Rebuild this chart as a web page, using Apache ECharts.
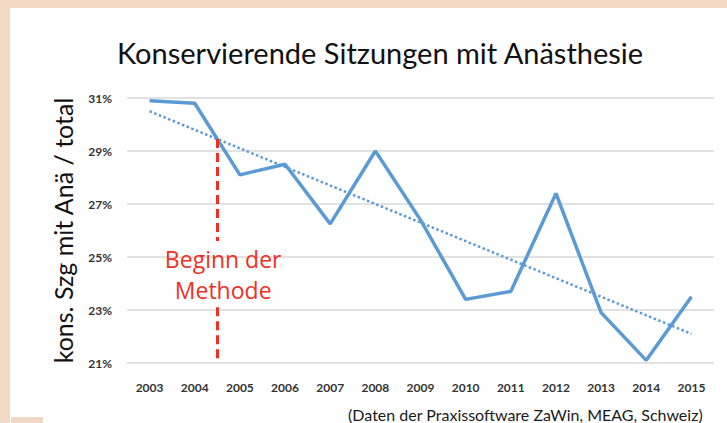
<!DOCTYPE html>
<html>
<head>
<meta charset="utf-8">
<script src="https://cdn.jsdelivr.net/npm/echarts@6/dist/echarts.min.js"></script>
<style>
html,body{margin:0;padding:0;background:#f1d9c5;}
#c{width:727px;height:423px;}
</style>
</head>
<body>
<div id="c"></div>
<script>
// Data
const years = ['2003','2004','2005','2006','2007','2008','2009','2010','2011','2012','2013','2014','2015'];
const shareAnesthesia = [30.9, 30.8, 28.1, 28.5, 26.25, 29.0, 26.4, 23.4, 23.7, 27.4, 22.9, 21.1, 23.5];
// Linear trend line: values read at first and last year
const trendStart = 30.5;
const trendEnd = 22.1;
// "Beginn der Methode" marker between 2004 and 2005 (category index 1.5)
const methodStartIndex = 1.5;
const markerTop = 29.45;
const markerGapTop = 25.6;
const markerGapBottom = 23.1;
const markerBottom = 21;
const yTicks = [21, 23, 25, 27, 29, 31];

const trendData = years.map((y, i) => i === 0 ? trendStart : (i === years.length - 1 ? trendEnd : null));

const font = 'Lato, "Open Sans", sans-serif';
const chart = echarts.init(document.getElementById('c'), null, {renderer: 'svg'});
chart.setOption({
  backgroundColor: '#f1d9c5',
  animation: false,
  graphic: [
    {type: 'rect', shape: {x: 10, y: 8, width: 717, height: 415}, style: {fill: '#ffffff'}, z: -10, silent: true},
    {type: 'rect', shape: {x: 11, y: 417, width: 32, height: 6}, style: {fill: '#f1d9c5'}, z: -9, silent: true}
  ],
  title: [
    {text: 'Konservierende Sitzungen mit Anästhesie', left: 112, top: 33,
     textStyle: {fontFamily: font, fontSize: 29, fontWeight: 'normal', color: '#111'}},
    {text: '(Daten der Praxissoftware ZaWin, MEAG, Schweiz)', right: 19, top: 401,
     textStyle: {fontFamily: font, fontSize: 16, fontWeight: 'normal', color: '#1a1a1a'}}
  ],
  grid: {left: 127, right: 13, top: 98, bottom: 60},
  xAxis: [
    {type: 'category', data: years, boundaryGap: true,
     axisLine: {show: false}, axisTick: {show: false},
     axisLabel: {fontFamily: font, fontSize: 12, fontWeight: 'bold', color: '#333', margin: 18}},
    {type: 'value', min: -0.5, max: 12.5, show: false}
  ],
  yAxis: {
    type: 'value', min: 21, max: 31, interval: 2,
    name: 'kons. Szg mit Anä / total', nameLocation: 'middle', nameGap: 52, nameRotate: 90,
    nameTextStyle: {fontFamily: font, fontSize: 25, color: '#111'},
    axisLine: {show: false}, axisTick: {show: false},
    axisLabel: {fontFamily: font, fontSize: 12, fontWeight: 'bold', color: '#333', margin: 15,
      formatter: v => yTicks.includes(v) ? v + '%' : ''},
    splitLine: {lineStyle: {color: '#d9d9d9', width: 1.5}}
  },
  series: [
    {type: 'line', xAxisIndex: 0, data: trendData, connectNulls: true, symbol: 'none',
     lineStyle: {color: '#5b9bd5', width: 2.5, type: [2.5, 2.5]}, z: 2},
    {type: 'line', xAxisIndex: 0, data: shareAnesthesia, symbol: 'none',
     lineStyle: {color: '#5b9bd5', width: 3.5}, z: 3},
    {type: 'lines', coordinateSystem: 'cartesian2d', xAxisIndex: 1, polyline: false,
     data: [
       {coords: [[methodStartIndex, markerTop], [methodStartIndex, markerGapTop]]},
       {coords: [[methodStartIndex, markerGapBottom], [methodStartIndex, markerBottom]]}
     ],
     lineStyle: {color: '#ee3124', width: 3, type: [9, 5], opacity: 1}, z: 4},
    {type: 'scatter', xAxisIndex: 1, symbolSize: 0, itemStyle: {opacity: 1},
     data: [[methodStartIndex + 0.13, 24.35]],
     label: {show: true, position: 'inside', formatter: 'Beginn der\nMethode',
       fontFamily: '"Open Sans", sans-serif', fontSize: 23, lineHeight: 31, color: '#ee3124',
       align: 'center', textBorderWidth: 0}, z: 5}
  ]
});
</script>
</body>
</html>
